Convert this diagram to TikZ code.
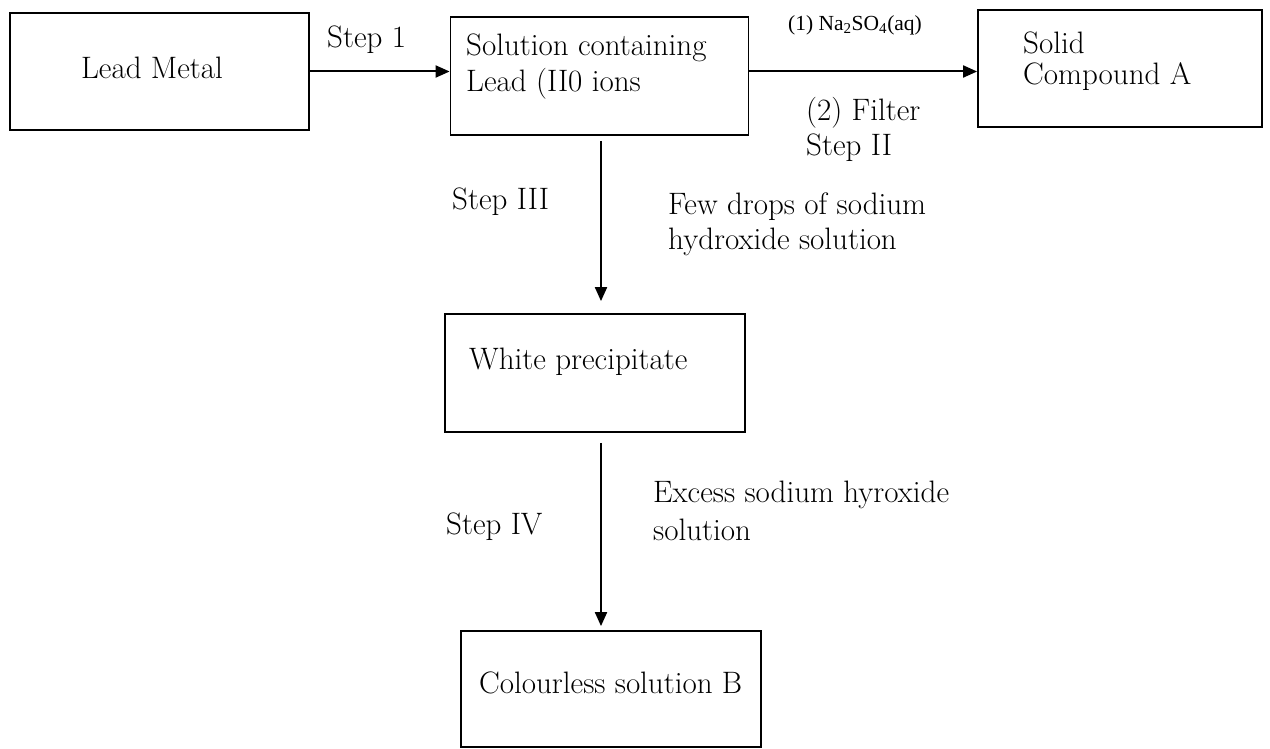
\documentclass[tikz,border=0pt]{standalone}
\usepackage{fontspec}
\newfontfamily\timesf{Liberation Serif}
\usetikzlibrary{arrows.meta}
\begin{document}
\begin{tikzpicture}[x=1pt,y=-1pt,
  font=\fontsize{31}{36}\selectfont,
  box/.style={draw,line width=1.8pt,inner sep=0pt},
  lbl/.style={anchor=west,inner sep=0pt,align=left},
  arr/.style={line width=2pt,-{Triangle[length=14pt,width=12pt]}}]
\useasboundingbox (0,0) rectangle (1270,749);
% boxes
\node[box,minimum width=299pt,minimum height=117pt] (lead) at (159.5,71.5) {};
\node[box,minimum width=298pt,minimum height=118pt] (sol) at (599.5,76) {};
\node[box,minimum width=284pt,minimum height=117pt] (solid) at (1120,68.5) {};
\node[box,minimum width=300pt,minimum height=118pt] (white) at (595,373) {};
\node[box,minimum width=300pt,minimum height=116pt] (colb) at (611,689) {};
% box texts
\node[anchor=center,inner sep=0pt] (leadt) at (152,68) {Lead Metal};
\node[lbl] (solt1) at (466,48) {Solution containing};
\node[lbl] (solt2) at (466,84) {Lead (II0 ions};
\node[lbl] (solidt1) at (1023,43) {Solid};
\node[lbl] (solidt2) at (1023,77) {Compound A};
\node[lbl] (whitet) at (469,362) {White precipitate};
\node[lbl] (colbt) at (479,683) {Colourless solution B};
% labels
\node[lbl] (s1) at (327,40) {Step 1};
\node[lbl,font=\timesf\fontsize{21.5}{25}\selectfont] (na) at (788,25) {(1) Na\textsubscript{2}SO\textsubscript{4}(aq)};
\node[lbl] (filt) at (806,113) {(2) Filter};
\node[lbl] (s2) at (806,148) {Step II};
\node[lbl] (s3) at (452,202) {Step III};
\node[lbl] (few1) at (668,207) {Few drops of sodium};
\node[lbl] (few2) at (668,242) {hydroxide solution};
\node[lbl] (s4) at (446,527) {Step IV};
\node[lbl] (exc1) at (653,495) {Excess sodium hyroxide};
\node[lbl] (exc2) at (653,530) {solution};
% connectors
\draw[arr] (lead.east) -- (lead.east -| sol.west);
\draw[arr] (sol.east |- lead.east) -- (solid.west |- lead.east);
\draw[arr,shorten <=5pt,shorten >=12pt] ([xshift=1.5pt]sol.south) -- ([xshift=1.5pt]sol.south |- white.north);
\draw[arr,shorten <=10pt,shorten >=4pt] ([xshift=1.5pt]sol.south |- white.south) -- ([xshift=1.5pt]sol.south |- colb.north);
\end{tikzpicture}
\end{document}
